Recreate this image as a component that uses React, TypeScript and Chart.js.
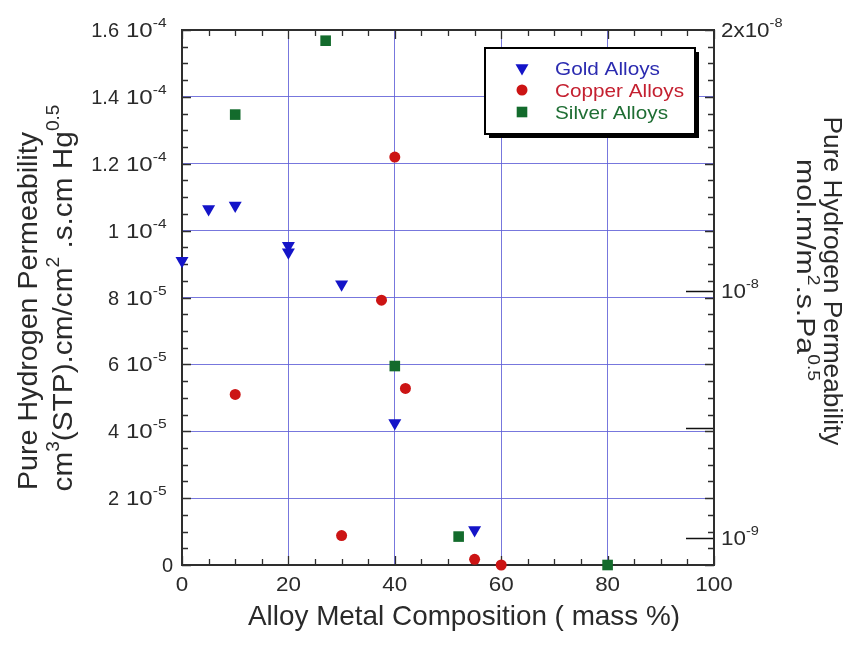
import React, { useEffect, useRef } from 'react';
import { Chart, registerables } from 'chart.js';

Chart.register(...registerables);

// ---------- data ----------
const goldX = [0, 5, 10, 20, 20, 30, 40, 55];
const goldY = [9.1e-5, 10.65e-5, 10.75e-5, 9.55e-5, 9.35e-5, 8.4e-5, 4.25e-5, 1.05e-5];
const copperX = [10, 30, 37.5, 40, 42, 55, 60];
const copperY = [5.1e-5, 0.88e-5, 7.92e-5, 12.2e-5, 5.28e-5, 0.17e-5, 0];
const silverX = [10, 27, 40, 52, 80];
const silverY = [13.47e-5, 15.68e-5, 5.95e-5, 0.85e-5, 0];

const seriesLabels = ['Gold Alloys', 'Copper Alloys', 'Silver Alloys'];

// left axis tick labels (mantissa + exponent of "10")
const yTickMantissa = ['0', '2', '4', '6', '8', '1', '1.2', '1.4', '1.6'];
const yTickExponent = ['', '-5', '-5', '-5', '-5', '-4', '-4', '-4', '-4'];

// right axis (mol.m/m2.s.Pa^0.5)
const CONV = 1.2216e-4; // cm3(STP).cm/cm2.s.cmHg^0.5 -> mol/m.s.Pa^0.5
const rightTickValues = [1e-9, 1e-8, 2e-8];
const rightTickPrefix = ['', '', '2x'];
const rightTickExponent = ['-9', '-8', '-8'];
const rightLongTicks = [1e-9, 5e-9, 1e-8];

const X_MIN = 0, X_MAX = 100, X_STEP = 20, X_MINOR = 5;
const Y_MIN = 0, Y_MAX = 1.6e-4, Y_STEP = 2e-5, Y_MINOR = 5e-6;

// ---------- styles ----------
const FONT = '"Liberation Sans", Arial, Helvetica, sans-serif';
const TEXT = '#2a2a2a';
const GRID = 'rgba(95, 95, 215, 0.85)';
const FRAME = '#2e2e2e';
const GOLD = '#1414c8';
const COPPER = '#cc1414';
const SILVER = '#136b2c';
const GOLD_TXT = '#2b2bb0';
const COPPER_TXT = '#c42030';
const SILVER_TXT = '#1f6e34';

type Seg = { t: string; sup?: boolean };

function drawRich(
  ctx: CanvasRenderingContext2D,
  segs: Seg[],
  x: number,
  y: number,
  size: number,
  align: 'left' | 'right' | 'center',
  opts: { rot?: number; width?: number; scaleX?: number; color?: string; supSize?: number; supRise?: number } = {}
) {
  const supSize = opts.supSize ?? Math.round(size * 0.65);
  const rise = opts.supRise ?? size * 0.42;
  const widths = segs.map((s) => {
    ctx.font = `${s.sup ? supSize : size}px ${FONT}`;
    return ctx.measureText(s.t).width;
  });
  const W = widths.reduce((a, b) => a + b, 0);
  const sx = opts.width ? opts.width / W : opts.scaleX ?? 1;
  ctx.save();
  ctx.translate(x, y);
  if (opts.rot) ctx.rotate(opts.rot);
  ctx.scale(sx, 1);
  let cx = align === 'left' ? 0 : align === 'right' ? -W : -W / 2;
  ctx.fillStyle = opts.color ?? TEXT;
  ctx.textBaseline = 'alphabetic';
  ctx.textAlign = 'left';
  segs.forEach((s, i) => {
    ctx.font = `${s.sup ? supSize : size}px ${FONT}`;
    ctx.fillText(s.t, cx, s.sup ? -rise : 0);
    cx += widths[i];
  });
  ctx.restore();
}

function drawMarker(ctx: CanvasRenderingContext2D, style: string, x: number, y: number, r: number, color: string) {
  ctx.save();
  ctx.fillStyle = color;
  ctx.beginPath();
  if (style === 'triangle') {
    ctx.moveTo(x, y + r);
    ctx.lineTo(x - r * Math.sin(Math.PI / 3), y - r / 2);
    ctx.lineTo(x + r * Math.sin(Math.PI / 3), y - r / 2);
    ctx.closePath();
  } else if (style === 'circle') {
    ctx.arc(x, y, r, 0, Math.PI * 2);
  } else {
    const s = r * Math.SQRT1_2;
    ctx.rect(x - s, y - s, 2 * s, 2 * s);
  }
  ctx.fill();
  ctx.restore();
}

const axesPlugin = {
  id: 'axesFrame',
  beforeDatasetsDraw(chart: any) {
    const ctx: CanvasRenderingContext2D = chart.ctx;
    const { left, right, top, bottom } = chart.chartArea;
    const xs = chart.scales.x;
    const ys = chart.scales.y;
    const y2 = chart.scales.y2;
    ctx.save();
    ctx.strokeStyle = FRAME;
    ctx.lineWidth = 1.3;
    ctx.beginPath();
    const nx = Math.round((X_MAX - X_MIN) / X_MINOR);
    for (let i = 0; i <= nx; i++) {
      const v = X_MIN + i * X_MINOR;
      const px = Math.round(xs.getPixelForValue(v)) + 0.5;
      const len = i % (X_STEP / X_MINOR) === 0 ? 9 : 6;
      ctx.moveTo(px, bottom);
      ctx.lineTo(px, bottom - len);
      ctx.moveTo(px, top);
      ctx.lineTo(px, top + len);
    }
    const ny = Math.round((Y_MAX - Y_MIN) / Y_MINOR);
    for (let i = 0; i <= ny; i++) {
      const v = Y_MIN + i * Y_MINOR;
      const py = Math.round(ys.getPixelForValue(v)) + 0.5;
      const len = i % 4 === 0 ? 9 : 6;
      ctx.moveTo(left, py);
      ctx.lineTo(left + len, py);
      ctx.moveTo(right, py);
      ctx.lineTo(right - len, py);
    }
    ctx.stroke();
    // long ticks of the right axis
    ctx.lineWidth = 1.5;
    ctx.strokeStyle = '#111';
    ctx.beginPath();
    rightLongTicks.forEach((v) => {
      const py = Math.round(y2.getPixelForValue(v)) + 0.5;
      ctx.moveTo(right, py);
      ctx.lineTo(right - 28, py);
    });
    ctx.stroke();
    // frame
    ctx.lineWidth = 2;
    ctx.strokeStyle = FRAME;
    ctx.strokeRect(left, top, right - left, bottom - top);
    ctx.restore();
  },
  afterDraw(chart: any) {
    const ctx: CanvasRenderingContext2D = chart.ctx;
    const { left, right, top } = chart.chartArea;
    const xs = chart.scales.x;
    const ys = chart.scales.y;
    const y2 = chart.scales.y2;

    // left tick labels
    ys.ticks.forEach((t: any, i: number) => {
      const py = ys.getPixelForValue(t.value);
      const m = yTickMantissa[i];
      const e = yTickExponent[i];
      if (!e) {
        drawRich(ctx, [{ t: m }], left - 9, py + 7, 20, 'right');
      } else {
        drawRich(ctx, [{ t: m }], 119, py + 7, 20, 'right');
        drawRich(ctx, [{ t: '10' }, { t: e, sup: true }], 126, py + 7, 20, 'left', { scaleX: 1.2, supSize: 13, supRise: 10 });
      }
    });

    // bottom tick labels
    xs.ticks.forEach((t: any) => {
      const px = xs.getPixelForValue(t.value);
      drawRich(ctx, [{ t: String(t.value) }], px, 591, 20, 'center', { scaleX: 1.12 });
    });

    // right tick labels
    rightTickValues.forEach((v, i) => {
      const py = Math.max(top, y2.getPixelForValue(v));
      drawRich(ctx, [{ t: rightTickPrefix[i] + '10' }, { t: rightTickExponent[i], sup: true }], right + 7, py + 7, 20, 'left', {
        scaleX: 1.12,
        supSize: 13,
        supRise: 10,
      });
    });

    // x title
    drawRich(ctx, [{ t: 'Alloy Metal Composition ( mass %)' }], 464, 625, 28, 'center', { width: 432 });

    // left title
    drawRich(ctx, [{ t: 'Pure Hydrogen Permeability' }], 37, 311, 28, 'center', { rot: -Math.PI / 2, width: 358 });
    drawRich(
      ctx,
      [
        { t: 'cm' },
        { t: '3', sup: true },
        { t: '(STP).cm/cm' },
        { t: '2', sup: true },
        { t: ' .s.cm Hg' },
        { t: '0.5', sup: true },
      ],
      72,
      298,
      28,
      'center',
      { rot: -Math.PI / 2, width: 387, supSize: 18, supRise: 13 }
    );

    // right title
    drawRich(ctx, [{ t: 'Pure Hydrogen Permeability' }], 824, 281, 26, 'center', { rot: Math.PI / 2, width: 329 });
    drawRich(
      ctx,
      [{ t: 'mol.m/m' }, { t: '2', sup: true }, { t: '.s.Pa' }, { t: '0.5', sup: true }],
      797,
      270,
      25,
      'center',
      { rot: Math.PI / 2, width: 222, supSize: 16, supRise: 11 }
    );

    // legend
    const bx = 485, by = 48, bw = 210, bh = 86;
    ctx.save();
    ctx.fillStyle = '#000';
    ctx.fillRect(bx + 4, by + 4, bw, bh);
    ctx.fillStyle = '#fff';
    ctx.fillRect(bx, by, bw, bh);
    ctx.strokeStyle = '#000';
    ctx.lineWidth = 2;
    ctx.strokeRect(bx, by, bw, bh);
    ctx.restore();
    const rowY = [68, 90, 112];
    const txtCol = [GOLD_TXT, COPPER_TXT, SILVER_TXT];
    const txtW = [105, 129, 113];
    chart.data.datasets.forEach((ds: any, i: number) => {
      drawMarker(ctx, ds.pointStyle, 522, rowY[i], ds.pointRadius, ds.backgroundColor);
      drawRich(ctx, [{ t: ds.label }], 555, rowY[i] + 7, 19, 'left', { color: txtCol[i], width: txtW[i] });
    });
  },
};

function toPoints(xs: number[], ys: number[]) {
  return xs.map((x, i) => ({ x, y: ys[i] }));
}

export default function App() {
  const ref = useRef<HTMLCanvasElement | null>(null);
  useEffect(() => {
    if (!ref.current) return;
    const chart = new Chart(ref.current, {
      type: 'scatter',
      data: {
        datasets: [
          {
            label: seriesLabels[0],
            data: toPoints(goldX, goldY),
            pointStyle: 'triangle',
            rotation: 180,
            pointRadius: 7.5,
            backgroundColor: GOLD,
            borderColor: GOLD,
            borderWidth: 0,
            clip: false,
          } as any,
          {
            label: seriesLabels[1],
            data: toPoints(copperX, copperY),
            pointStyle: 'circle',
            pointRadius: 5.5,
            backgroundColor: COPPER,
            borderColor: COPPER,
            borderWidth: 0,
            clip: false,
          } as any,
          {
            label: seriesLabels[2],
            data: toPoints(silverX, silverY),
            pointStyle: 'rect',
            pointRadius: 7.5,
            backgroundColor: SILVER,
            borderColor: SILVER,
            borderWidth: 0,
            clip: false,
          } as any,
        ],
      },
      options: {
        responsive: false,
        maintainAspectRatio: false,
        animation: false,
        layout: { padding: { left: 182, top: 30, right: 134, bottom: 81 } },
        plugins: { legend: { display: false }, tooltip: { enabled: false } },
        scales: {
          x: {
            type: 'linear',
            min: X_MIN,
            max: X_MAX,
            ticks: { display: false, stepSize: X_STEP },
            grid: { color: GRID, lineWidth: 1, drawTicks: false },
            border: { display: false },
          },
          y: {
            type: 'linear',
            min: Y_MIN,
            max: Y_MAX,
            ticks: { display: false, stepSize: Y_STEP },
            grid: { color: GRID, lineWidth: 1, drawTicks: false },
            border: { display: false },
          },
          y2: {
            type: 'linear',
            position: 'right',
            min: Y_MIN * CONV,
            max: Y_MAX * CONV,
            ticks: { display: false },
            grid: { display: false, drawTicks: false },
            border: { display: false },
          },
        },
      },
      plugins: [axesPlugin],
    });
    return () => chart.destroy();
  }, []);
  return (
    <div style={{ position: 'absolute', left: 0, top: 0, width: 848, height: 646, background: '#fff' }}>
      <canvas ref={ref} width={848} height={646} style={{ display: 'block', width: 848, height: 646 }} />
    </div>
  );
}
